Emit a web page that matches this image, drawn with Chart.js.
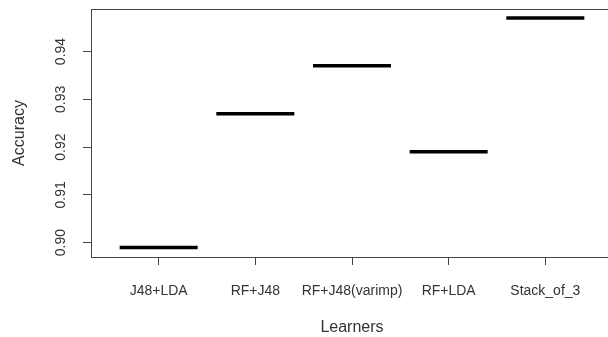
<!DOCTYPE html>
<html>
<head>
<meta charset="utf-8">
<script src="https://cdn.jsdelivr.net/npm/chart.js@4"></script>
<style>
  html, body { margin: 0; padding: 0; overflow: hidden; background: #fff; }
  #wrap { width: 620px; height: 337px; }
</style>
</head>
<body>
<div id="wrap"><canvas id="accChart" width="620" height="337"></canvas></div>
<script>
const learners = ['J48+LDA', 'RF+J48', 'RF+J48(varimp)', 'RF+LDA', 'Stack_of_3'];
const accuracy = [0.899, 0.927, 0.937, 0.919, 0.947];
const yTickValues = [0.90, 0.91, 0.92, 0.93, 0.94];

const textColor = '#333';
const fontFamily = '"Liberation Sans", Arial, sans-serif';

// R-style box and rotated y labels
const rBox = {
    id: 'rBox',
    afterDraw(chart) {
        const ctx = chart.ctx, a = chart.chartArea, y = chart.scales.y;
        ctx.save();
        ctx.strokeStyle = '#444';
        ctx.lineWidth = 1;
        ctx.strokeRect(Math.round(a.left) + 0.5, Math.round(a.top) + 0.5,
            Math.round(a.right - a.left), Math.round(a.bottom - a.top));
        ctx.fillStyle = textColor;
        ctx.font = '14px ' + fontFamily;
        ctx.textAlign = 'center';
        ctx.textBaseline = 'middle';
        yTickValues.forEach(v => {
            const py = y.getPixelForValue(v);
            ctx.save();
            ctx.translate(61, py);
            ctx.rotate(-Math.PI / 2);
            ctx.fillText(v.toFixed(2), 0, 0);
            ctx.restore();
        });
        ctx.restore();
    }
};

new Chart(document.getElementById('accChart'), {
    type: 'line',
    plugins: [rBox],
    data: {
        datasets: [{
            data: learners.map((l, i) => ({ x: i + 1, y: accuracy[i] })),
            showLine: false,
            pointStyle: 'line',
            pointRadius: 39,
            pointHoverRadius: 39,
            borderWidth: 3.5,
            borderColor: '#000',
            backgroundColor: '#000'
        }]
    },
    options: {
        responsive: false,
        animation: false,
        layout: { autoPadding: false, padding: { top: 9, right: 7, left: 0, bottom: 0 } },
        plugins: {
            legend: { display: false },
            tooltip: { enabled: false }
        },
        scales: {
            x: {
                type: 'linear',
                min: 0.3,
                max: 5.7,
                afterBuildTicks: s => { s.ticks = learners.map((l, i) => ({ value: i + 1 })); },
                afterFit: s => { s.height = 80; },
                border: { display: false },
                grid: { drawOnChartArea: false, tickLength: 8, color: '#444' },
                ticks: {
                    autoSkip: false,
                    maxRotation: 0,
                    padding: 18,
                    color: textColor,
                    font: { size: 14, family: fontFamily },
                    callback: v => learners[v - 1]
                },
                title: {
                    display: true,
                    text: 'Learners',
                    color: textColor,
                    font: { size: 16, family: fontFamily },
                    padding: 0
                }
            },
            y: {
                min: 0.897,
                max: 0.9489,
                afterBuildTicks: s => { s.ticks = yTickValues.map(v => ({ value: v })); },
                afterFit: s => { s.width = 91; },
                border: { display: false },
                grid: { drawOnChartArea: false, tickLength: 8, color: '#444' },
                ticks: { display: false },
                title: {
                    display: true,
                    text: 'Accuracy',
                    color: textColor,
                    font: { size: 16, family: fontFamily },
                    padding: 10
                }
            }
        }
    }
});
</script>
</body>
</html>
